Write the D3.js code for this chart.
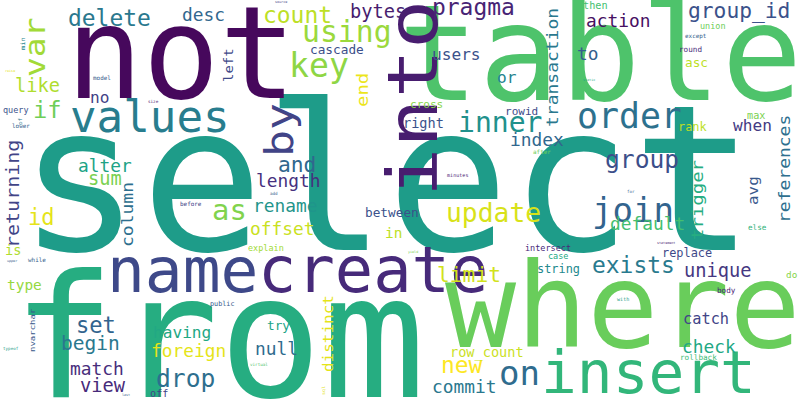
<!DOCTYPE html>
<html>
<head>
<meta charset="utf-8">
<script src="https://cdn.jsdelivr.net/npm/d3@7"></script>
<style>
  body { margin: 0; background: #fff; }
  text { font-family: "DejaVu Sans Mono", monospace; }
</style>
</head>
<body>
<svg id="cloud" width="800" height="400"></svg>
<script>
// word, weight, layout x, layout y, vertical?, viridis shade
var words = [
  ['select', 240, 18, 250, 0, 0.55],
  ['from', 202, 12, 397, 0, 0.62],
  ['table', 158, 398, 100, 0, 0.72],
  ['not', 150, 66, 98, 0, 0.02],
  ['where', 139, 445, 347, 0, 0.77],
  ['into', 82, 437, 197, 1, 0.08],
  ['create', 75, 258, 292, 0, 0.12],
  ['name', 74, 107, 292, 0, 0.22],
  ['insert', 70, 541, 393, 0, 0.66],
  ['values', 52, 70, 132, 0, 0.42],
  ['by', 45, 293, 157, 1, 0.2],
  ['order', 41, 577, 128, 0, 0.37],
  ['on', 40, 499, 385, 0, 0.35],
  ['join', 40, 592, 222, 0, 0.32],
  ['key', 39, 289, 77, 0, 0.83],
  ['using', 35, 302, 42, 0, 0.85],
  ['as', 34, 212, 220, 0, 0.81],
  ['inner', 33, 458, 132, 0, 0.5],
  ['var', 33, 45, 77, 1, 0.86],
  ['update', 31, 446, 222, 0, 0.94],
  ['group', 29, 605, 168, 0, 0.24],
  ['drop', 29, 156, 387, 0, 0.36],
  ['if', 28, 33, 118, 0, 0.78],
  ['delete', 27, 68, 26, 0, 0.4],
  ['count', 27, 263, 23, 0, 0.9],
  ['pragma', 27, 432, 15, 0, 0.1],
  ['exists', 27, 592, 273, 0, 0.41],
  ['new', 27, 441, 373, 0, 1.0],
  ['id', 26, 28, 225, 0, 0.96],
  ['set', 26, 76, 333, 0, 0.32],
  ['and', 25, 278, 172, 0, 0.33],
  ['group_id', 25, 688, 18, 0, 0.25],
  ['limit', 25, 437, 282, 0, 0.93],
  ['begin', 23, 61, 350, 0, 0.4],
  ['bytes', 22, 350, 18, 0, 0.08],
  ['like', 22, 15, 92, 0, 0.88],
  ['sum', 22, 88, 185, 0, 0.8],
  ['unique', 22, 684, 277, 0, 0.16],
  ['view', 22, 80, 392, 0, 0.12],
  ['desc', 21, 182, 21, 0, 0.33],
  ['action', 21, 586, 27, 0, 0.04],
  ['to', 21, 577, 60, 0, 0.3],
  ['index', 21, 510, 146, 0, 0.33],
  ['alter', 21, 78, 172, 0, 0.58],
  ['length', 21, 256, 187, 0, 0.14],
  ['rename', 21, 253, 212, 0, 0.52],
  ['offset', 21, 250, 235, 0, 0.92],
  ['default', 21, 610, 230, 0, 0.7],
  ['foreign', 21, 151, 357, 0, 0.96],
  ['null', 21, 255, 355, 0, 0.35],
  ['match', 21, 70, 375, 0, 0.13],
  ['check', 21, 682, 353, 0, 0.6],
  ['commit', 21, 432, 393, 0, 0.4],
  ['returning', 20, 19, 248, 1, 0.2],
  ['or', 19, 497, 83, 0, 0.45],
  ['users', 19, 432, 60, 0, 0.25],
  ['when', 19, 733, 131, 0, 0.17],
  ['no', 19, 90, 103, 0, 0.19],
  ['end', 19, 368, 107, 1, 0.97],
  ['having', 19, 153, 338, 0, 0.6],
  ['trigger', 19, 703, 240, 1, 0.62],
  ['transaction', 18, 558, 127, 1, 0.4],
  ['references', 18, 790, 223, 1, 0.36],
  ['column', 18, 133, 247, 1, 0.36],
  ['catch', 18, 683, 324, 0, 0.2],
  ['type', 17, 7, 290, 0, 0.84],
  ['in', 17, 385, 238, 0, 0.9],
  ['is', 16, 5, 255, 0, 0.88],
  ['distinct', 16, 333, 372, 1, 0.96],
  ['right', 16, 403, 128, 0, 0.25],
  ['row_count', 16, 450, 357, 0, 0.92],
  ['avg', 16, 758, 205, 1, 0.27],
  ['asc', 15, 685, 67, 0, 0.9],
  ['cascade', 15, 310, 54, 0, 0.24],
  ['between', 15, 365, 217, 0, 0.25],
  ['try', 15, 267, 330, 0, 0.58],
  ['left', 14, 233, 82, 1, 0.22],
  ['rank', 14, 678, 131, 0, 0.9],
  ['string', 14, 537, 273, 0, 0.47],
  ['replace', 14, 662, 257, 0, 0.22],
  ['cross', 13, 410, 108, 0, 0.82],
  ['rowid', 13, 505, 115, 0, 0.23],
  ['then', 12, 583, 9, 0, 0.7],
  ['max', 12, 747, 119, 0, 0.8],
  ['off', 12, 150, 397, 0, 0.2],
  ['union', 10, 700, 29, 0, 0.78],
  ['explain', 10, 248, 251, 0, 0.86],
  ['intersect', 10, 525, 251, 0, 0.12],
  ['case', 10, 548, 259, 0, 0.6],
  ['query', 10, 3, 113, 0, 0.25],
  ['do', 11, 786, 278, 0, 0.82],
  ['round', 9, 679, 52, 0, 0.12],
  ['else', 9, 748, 230, 0, 0.65],
  ['body', 9, 717, 293, 0, 0.1],
  ['rollback', 9, 680, 360, 0, 0.68],
  ['nvarchar', 9, 35, 352, 1, 0.27],
  ['public', 8, 210, 306, 0, 0.28],
  ['min', 7, 25, 50, 1, 0.45],
  ['lower', 7, 12, 128, 0, 0.3],
  ['model', 7, 93, 80, 0, 0.28],
  ['except', 7, 685, 38, 0, 0.3],
  ['after', 7, 533, 154, 0, 0.78],
  ['before', 7, 180, 206, 0, 0.2],
  ['while', 7, 28, 262, 0, 0.3],
  ['minutes', 6, 447, 177, 0, 0.1],
  ['with', 6, 617, 301, 0, 0.55],
  ['of', 6, 22, 125, 1, 0.4],
  ['size', 5, 148, 103, 0, 0.1],
  ['groups', 5, 653, 147, 0, 0.55],
  ['for', 5, 627, 193, 0, 0.3],
  ['add', 5, 270, 195, 0, 0.3],
  ['typeof', 5, 3, 350, 0, 0.55],
  ['virtual', 5, 250, 366, 0, 0.72],
  ['sql', 5, 325, 395, 1, 0.95],
  ['static', 4, 583, 81, 0, 0.6],
  ['statement', 4, 657, 244, 0, 0.1],
  ['yield', 4, 408, 253, 0, 0.8],
  ['raise', 4, 5, 72, 0, 0.96],
  ['source', 4, 275, 3, 0, 0.2],
  ['upper', 4, 7, 262, 0, 0.3],
  ['last', 4, 122, 396, 0, 0.3]
];

var width = 800, height = 400;
var svg = d3.select('#cloud');

var x = d3.scaleLinear().domain([0, 800]).range([0, width]);
var y = d3.scaleLinear().domain([0, 400]).range([0, height]);
var size = d3.scaleLinear().domain([0, 240]).range([0, 240]);
var color = d3.scaleSequential(d3.interpolateViridis).domain([0, 1]);

//  reference glyphs are shorter than DejaVu Sans Mono for the same advance
var squeeze = 0.85;

svg.selectAll('text')
    .data(words)
  .enter().append('text')
    .attr('transform', function(d) {
      var t = 'translate(' + x(d[2]) + ',' + y(d[3]) + ')';
      return d[4] ? t + ' scale(' + squeeze + ',1) rotate(-90)' : t;
    })
    .attr('font-size', function(d) { return d[4] ? size(d[1]) : size(d[1]) * squeeze; })
    .attr('fill', function(d) { return color(d[5]); })
    .text(function(d) { return d[0]; });
</script>
</body>
</html>
